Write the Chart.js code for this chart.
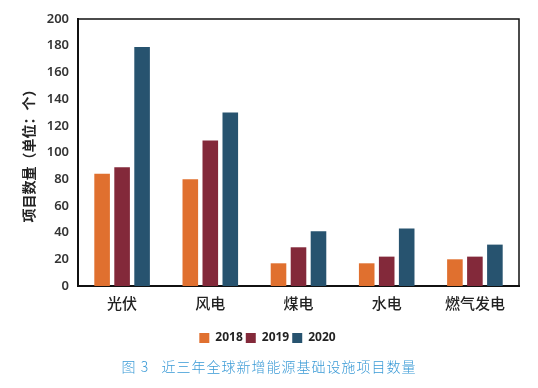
<!DOCTYPE html>
<html lang="zh-CN">
<head>
<meta charset="UTF-8">
<title>近三年全球新增能源基础设施项目数量</title>
<script src="https://cdn.jsdelivr.net/npm/chart.js"></script>
<style>
    html, body { margin: 0; padding: 0; background: #fff; }
    .wrap { position: relative; width: 538px; height: 388px; }
    .caption {
        position: absolute; left: 0; width: 538px; top: 356px;
        text-align: center; color: #3a9ad6;
        font: 300 14px "Noto Sans CJK SC", sans-serif; letter-spacing: 1px;
    }
</style>
</head>
<body>
<div class="wrap">
    <canvas id="chart" width="538" height="388"></canvas>
    <div class="caption">图 3&nbsp;&nbsp;&nbsp;近三年全球新增能源基础设施项目数量</div>
</div>
<script>
// 数据
const categories = ['光伏', '风电', '煤电', '水电', '燃气发电'];
const years = ['2018', '2019', '2020'];
const values2018 = [84, 80, 17, 17, 20];
const values2019 = [89, 109, 29, 22, 22];
const values2020 = [179, 130, 41, 43, 31];
const colors = ['#e0702f', '#83293a', '#27536f'];

// 画外框（上、右）
const frame = {
    id: 'frame',
    afterDraw(chart) {
        const { ctx, chartArea: a } = chart;
        ctx.save();
        ctx.strokeStyle = '#111';
        ctx.lineWidth = 1.5;
        ctx.beginPath();
        ctx.moveTo(a.left, a.top);
        ctx.lineTo(a.right, a.top);
        ctx.lineTo(a.right, a.bottom);
        ctx.stroke();
        ctx.restore();
    }
};

new Chart(document.getElementById('chart'), {
    type: 'bar',
    data: {
        labels: categories,
        datasets: [values2018, values2019, values2020].map((v, i) => ({
            label: years[i],
            data: v,
            backgroundColor: colors[i],
            categoryPercentage: 0.68,
            barPercentage: 0.78
        }))
    },
    options: {
        responsive: false,
        animation: false,
        layout: { padding: { left: 16, top: 19, right: 19, bottom: 34 } },
        scales: {
            x: {
                grid: { display: false, drawTicks: false },
                border: { color: '#111', width: 2 },
                ticks: { color: '#222', padding: 8, font: { family: 'Noto Sans CJK SC', size: 15, weight: 500 } },
                afterFit(s) { s.height = 43; }
            },
            y: {
                min: 0, max: 200,
                grid: { display: false, drawTicks: false },
                border: { color: '#111', width: 2 },
                ticks: { stepSize: 20, color: '#333', padding: 9, font: { family: 'Noto Sans', size: 13, weight: 600 } },
                title: {
                    display: true, text: '项目数量（单位：个）', color: '#222',
                    font: { family: 'Noto Sans CJK SC', size: 14, weight: 'bold' }
                },
                afterFit(s) { s.width = 62; }
            }
        },
        plugins: {
            legend: {
                position: 'bottom',
                labels: {
                    boxWidth: 10, boxHeight: 10, padding: 3, color: '#222',
                    font: { family: 'Noto Sans', size: 12, weight: 'bold' }
                }
            },
            tooltip: { enabled: false }
        }
    },
    plugins: [frame]
});
</script>
</body>
</html>
